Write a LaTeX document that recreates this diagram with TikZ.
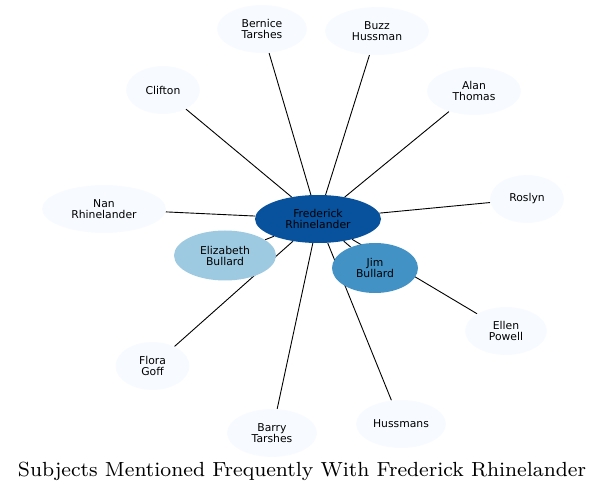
\documentclass[tikz,border=0pt]{standalone}
\usepackage{fontspec}
\usepackage{graphicx}
\newfontfamily\namefont{DejaVu Sans}
\usetikzlibrary{shapes.geometric,backgrounds}
\definecolor{hubblue}{HTML}{08519C}
\definecolor{midblue}{HTML}{4292C6}
\definecolor{lightblue}{HTML}{9ECAE1}
\definecolor{paleblue}{HTML}{F7FBFF}
\tikzset{
  subject/.style={ellipse, fill=paleblue, inner sep=0pt, align=center,
    minimum height=48pt, font=\namefont\fontsize{10.8}{11}\selectfont},
  link/.style={draw=black, line width=0.9pt}
}
\begin{document}
\begin{tikzpicture}[x=1pt,y=-1pt]
  \useasboundingbox (0,0) rectangle (605,494);
  % hub and close subjects
  \node[subject, fill=hubblue, minimum width=126pt] (fred) at (318,219) {Frederick\\Rhinelander};
  \node[subject, fill=lightblue, minimum width=102pt, minimum height=50pt] (eliz) at (225,255.5) {Elizabeth\\Bullard};
  \node[subject, fill=midblue, minimum width=86pt, minimum height=50pt] (jim) at (375,268) {Jim\\Bullard};
  % outer subjects
  \node[subject, minimum width=90pt] (bernice) at (262,29) {Bernice\\Tarshes};
  \node[subject, minimum width=104pt] (buzz) at (377,31) {Buzz\\Hussman};
  \node[subject, minimum width=74pt] (clifton) at (163,90) {Clifton};
  \node[subject, minimum width=94pt] (alan) at (474,91) {Alan\\Thomas};
  \node[subject, minimum width=124pt] (nan) at (104,209) {Nan\\Rhinelander};
  \node[subject, minimum width=74pt] (roslyn) at (527,199) {Roslyn};
  \node[subject, minimum width=82pt] (ellen) at (506,331) {Ellen\\Powell};
  \node[subject, minimum width=74pt] (flora) at (152.5,366) {Flora\\Goff};
  \node[subject, minimum width=90pt] (barry) at (272,433) {Barry\\Tarshes};
  \node[subject, minimum width=90pt] (hussmans) at (401,424) {Hussmans};
  % connectors under the nodes
  \begin{pgfonlayer}{background}
    \foreach \other in {eliz,jim,bernice,buzz,clifton,alan,nan,roslyn,ellen,flora,barry,hussmans}
      \draw[link] (fred) -- (\other);
  \end{pgfonlayer}
  \node[anchor=base, inner sep=0pt] (title) at (302,476)
    {\resizebox{568pt}{!}{\fontsize{8}{9}\selectfont Subjects Mentioned Frequently With Frederick Rhinelander}};
\end{tikzpicture}
\end{document}
